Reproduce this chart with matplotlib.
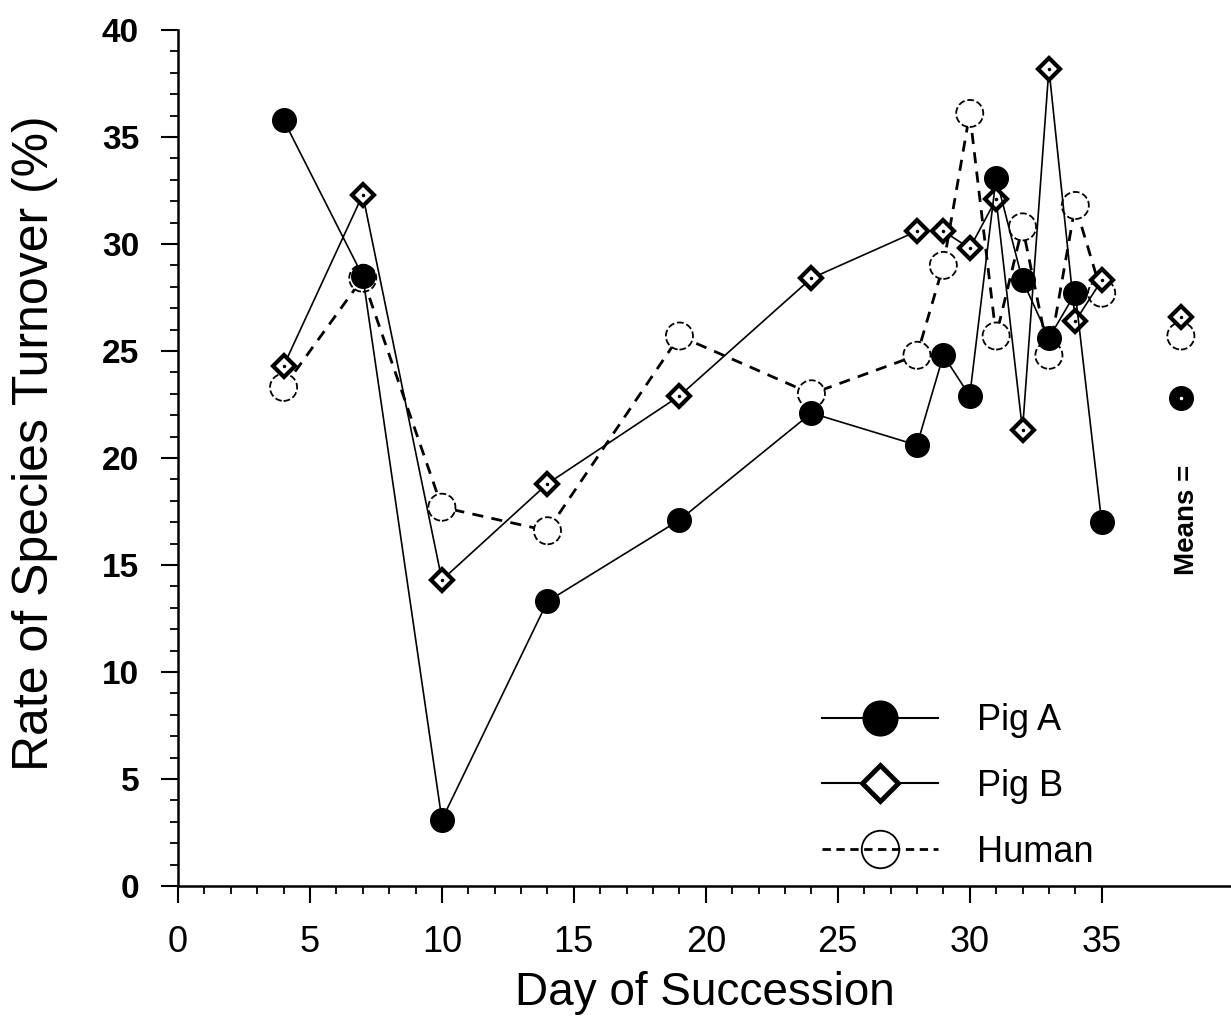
import matplotlib
matplotlib.use("Agg")
import matplotlib.pyplot as plt
from matplotlib.lines import Line2D

plt.rcParams['font.family'] = ['Liberation Sans', 'DejaVu Sans']

# sampling days
days = [4, 7, 10, 14, 19, 24, 28, 29, 30, 31, 32, 33, 34, 35]

# rate of species turnover (%)
pig_a = [35.8, 28.5, 3.1, 13.3, 17.1, 22.1, 20.6, 24.8, 22.9, 33.1, 28.3, 25.6, 27.7, 17.0]
pig_b = [24.3, 32.3, 14.3, 18.8, 22.9, 28.4, 30.6, 30.6, 29.8, 32.1, 21.3, 38.2, 26.4, 28.3]
human = [23.3, 28.4, 17.7, 16.6, 25.7, 23.0, 24.8, 29.0, 36.1, 25.7, 30.8, 24.8, 31.8, 27.7]

# means plotted off to the right
mean_day = 38
mean_a = 22.8
mean_b = 26.6
mean_h = 25.7

fig = plt.figure(figsize=(12.31, 10.22), dpi=100)
ax = fig.add_axes([178 / 1231, 136 / 1022, 1053 / 1231, 856 / 1022])

# human: dashed line, open circles with broken outline
ax.plot(days, human, color='black', lw=2.0, ls=(0, (4, 3)), zorder=2)
ax.scatter(days + [mean_day], human + [mean_h], s=380, facecolors='white',
           edgecolors='black', linewidths=1.3, linestyles='--', zorder=3)

# pig B: thin line, open diamonds
ax.plot(days, pig_b, color='black', lw=1.2, marker='D', ms=11.5,
        mfc='white', mec='black', mew=3.0, zorder=4)
ax.plot([mean_day], [mean_b], ls='none', marker='D', ms=11.5, mfc='white',
        mec='black', mew=3.0, zorder=4)
ax.plot(days + [mean_day], pig_b + [mean_b], ls='none', marker='.', ms=3,
        color='black', zorder=5)

# pig A: thin line, filled circles
ax.plot(days, pig_a, color='black', lw=1.2, marker='o', ms=17,
        mfc='black', mec='black', zorder=6)
ax.plot([mean_day], [mean_a], ls='none', marker='o', ms=17, color='black', zorder=6)
ax.plot([mean_day], [mean_a], ls='none', marker='.', ms=3, color='white', zorder=7)

ax.text(38.25, 17.1, 'Means =', rotation=90, ha='center', va='center',
        fontsize=20, fontweight='bold')

ax.set_xlim(0, 39.9)
ax.set_ylim(0, 40)
ax.set_xticks(range(0, 36, 5))
ax.set_xticks(range(0, 36), minor=True)
ax.set_yticks(range(0, 41, 5))
ax.set_yticks(range(0, 41), minor=True)

for s in ['top', 'right']:
    ax.spines[s].set_visible(False)
for s in ['left', 'bottom']:
    ax.spines[s].set_linewidth(1.8)

ax.tick_params(which='major', direction='out', length=12, width=1.5, labelsize=24)
ax.tick_params(which='minor', direction='out', length=6, width=1.3)
ax.tick_params(axis='x', which='major', pad=16, labelsize=26)
ax.tick_params(axis='y', which='major', pad=16)
for lab in ax.get_yticklabels():
    lab.set_fontweight('bold')

fig.text(35 / 1231, 1 - 443 / 1022, 'Rate of Species Turnover (%)', rotation=90,
         ha='center', va='center', fontsize=36)
fig.text(705 / 1231, 1 - 1005 / 1022, 'Day of Succession', ha='center',
         va='baseline', fontsize=33)

# legend
leg_a = Line2D([], [], color='black', lw=1.5, marker='o', ms=25, mfc='black')
leg_b = Line2D([], [], color='black', lw=1.5, marker='D', ms=18, mfc='white', mew=3.5)
leg_h = Line2D([], [], color='black', lw=2.0, ls=(0, (3, 2)), marker='o', ms=27,
               mfc='none', mec='black', mew=1.3)
ax.legend([leg_a, leg_b, leg_h], ['Pig A', 'Pig B', 'Human'],
          frameon=False, fontsize=26, handlelength=3.2, handletextpad=1.1,
          labelspacing=0.85, borderpad=0, borderaxespad=0, loc='center left',
          bbox_to_anchor=(0.6116, 0.1162))

fig.savefig('out.png', dpi=100)
